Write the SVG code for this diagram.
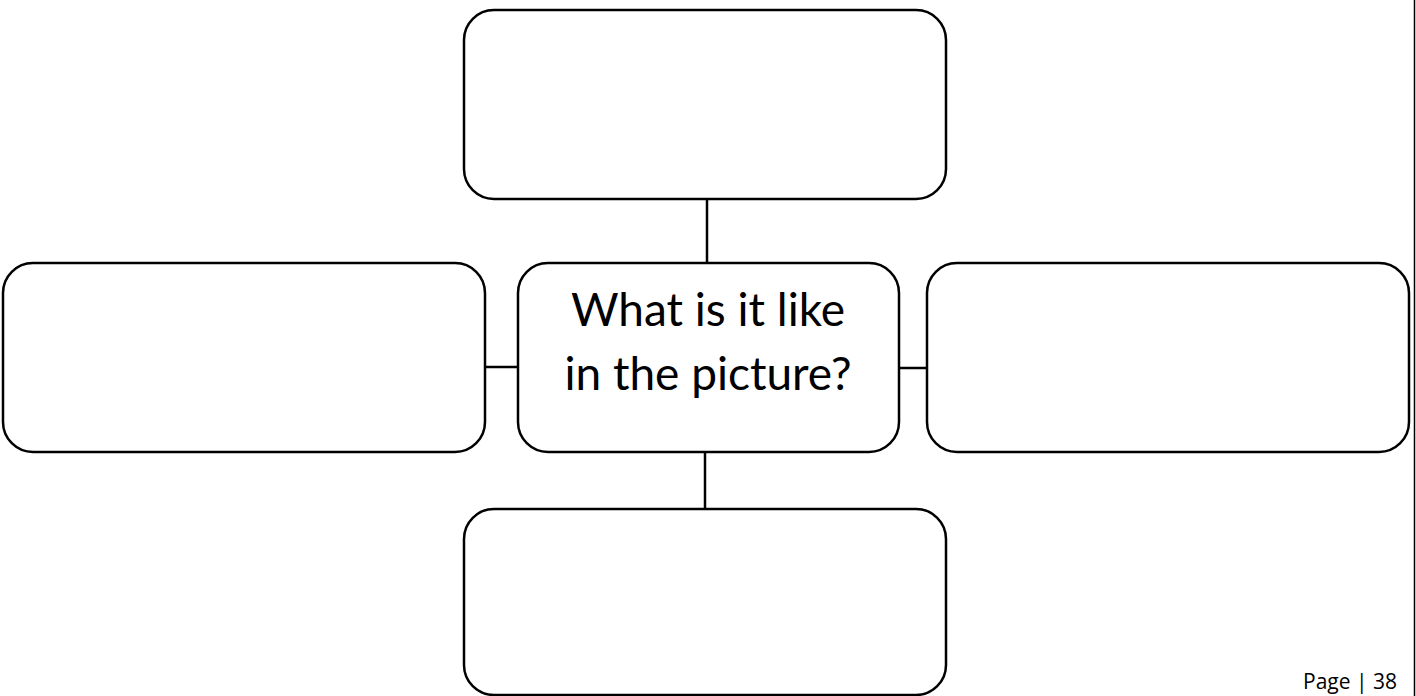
<svg xmlns="http://www.w3.org/2000/svg" width="1416" height="696" viewBox="0 0 1416 696">
<style>
.box{fill:#fff;stroke:#000;stroke-width:2.5}
.conn{stroke:#000;stroke-width:2.5;fill:none}
.lbl{font-family:"Lato","Open Sans",sans-serif;font-size:46px;fill:#000;text-anchor:middle}
.pg{font-family:"Open Sans","Liberation Sans",sans-serif;font-size:21px;fill:#000}
</style>
<rect width="1416" height="696" fill="#fff"/>
<g id="connectors">
<line class="conn" x1="707" y1="199" x2="707" y2="263"/>
<line class="conn" x1="485" y1="367" x2="518" y2="367"/>
<line class="conn" x1="893" y1="368" x2="927" y2="368"/>
<line class="conn" x1="705" y1="448" x2="705" y2="508"/>
</g>
<g id="top"><rect class="box" x="464" y="10" width="482" height="189" rx="30"/></g>
<g id="left"><rect class="box" x="3" y="263" width="482" height="189" rx="30"/></g>
<g id="center"><rect class="box" x="518" y="263" width="381" height="189" rx="30"/>
<text class="lbl" x="708" y="326">What is it like</text>
<text class="lbl" x="708" y="390">in the picture?</text></g>
<g id="right"><rect class="box" x="927" y="263" width="482" height="189" rx="30"/></g>
<g id="bottom"><rect class="box" x="464" y="509" width="482" height="186" rx="30"/></g>
<line x1="1414.5" y1="0" x2="1414.5" y2="696" stroke="#000" stroke-width="1.5"/>
<text class="pg" x="1303" y="689">Page | 38</text>
</svg>
